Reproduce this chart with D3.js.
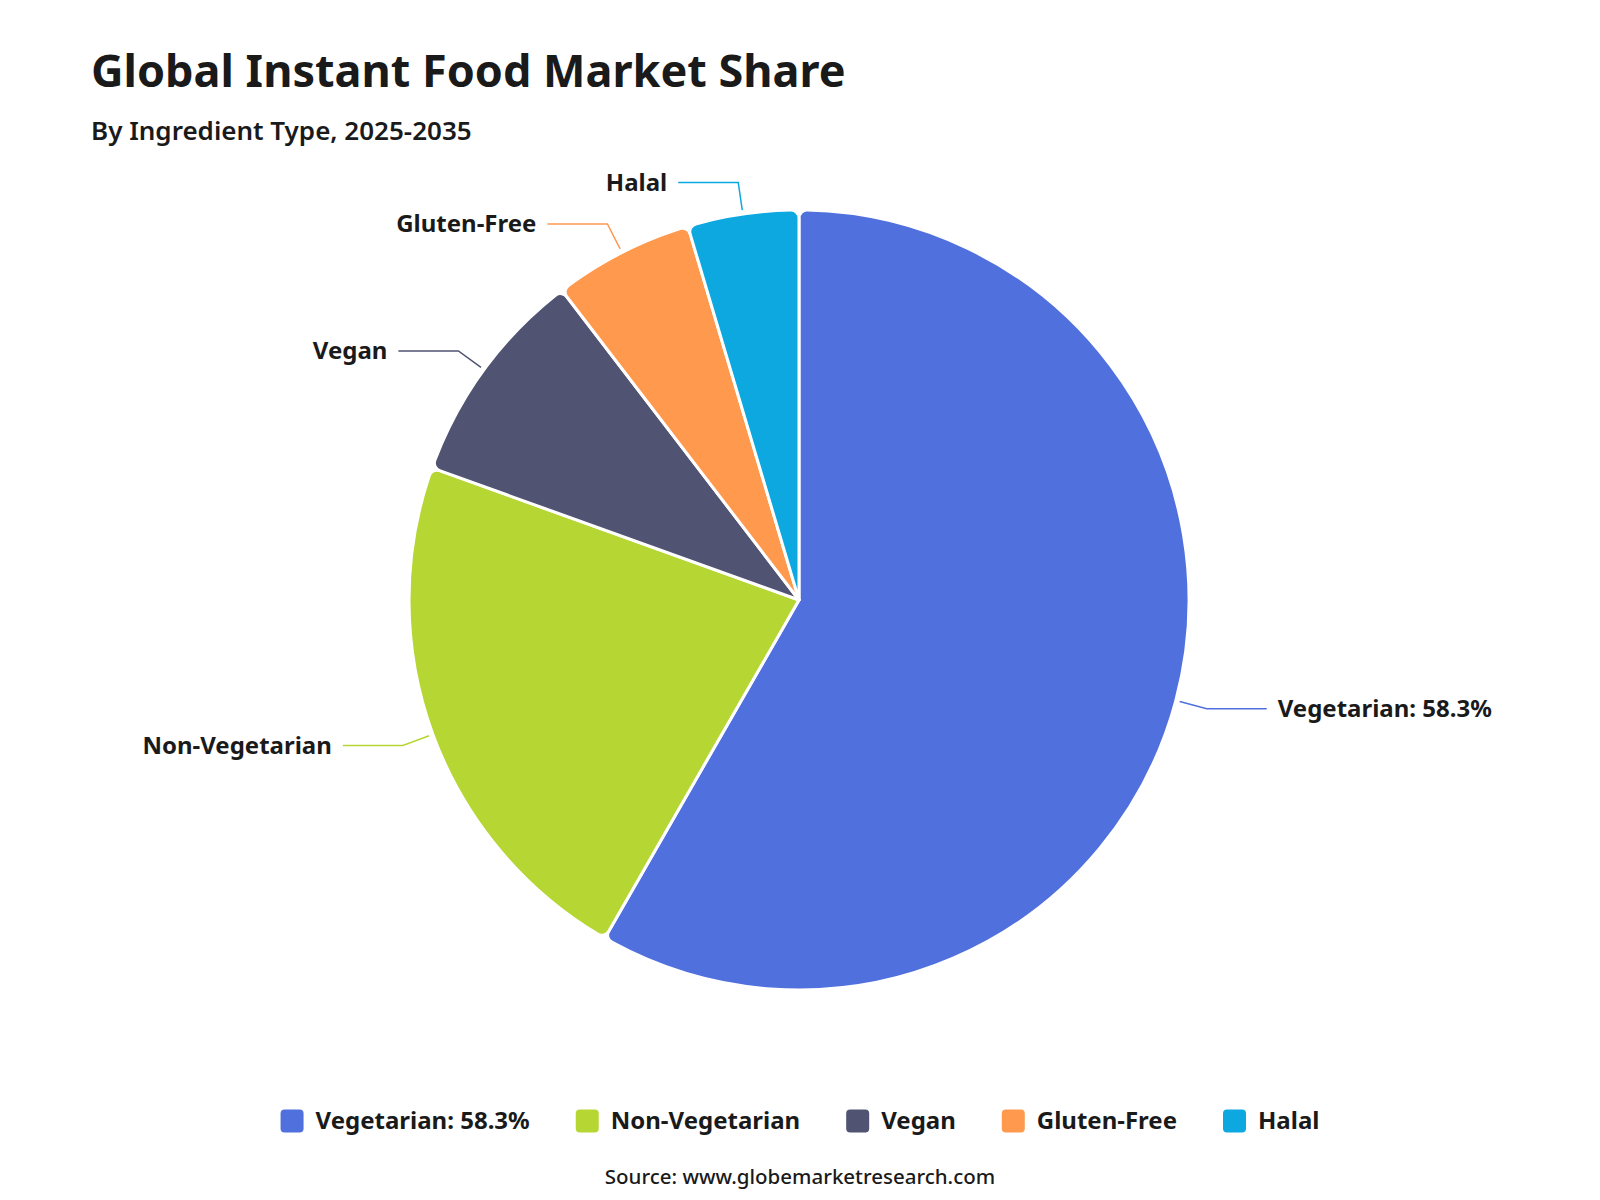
<!DOCTYPE html>
<html>
<head>
<meta charset="utf-8">
<script src="https://cdn.jsdelivr.net/npm/d3@7"></script>
<style>
  body { margin: 0; background: #fff; }
  svg { display: block; font-family: "Noto Sans", "Open Sans", sans-serif; }
</style>
</head>
<body>
<svg width="1600" height="1200"></svg>
<script>
const categories = ["Vegetarian", "Non-Vegetarian", "Vegan", "Gluten-Free", "Halal"];
const shares = [58.3, 22.2, 9.1, 5.8, 4.6];
const labelTexts = ["Vegetarian: 58.3%", "Non-Vegetarian", "Vegan", "Gluten-Free", "Halal"];
const colors = ["#5070dd", "#b6d634", "#505372", "#ff994d", "#0ca8df"];

const svg = d3.select("svg");
const width = 1600;
const cx = 799, cy = 600, radius = 390;

// Title block
svg.append("text")
  .attr("x", 91).attr("y", 87)
  .attr("font-size", 45).attr("font-weight", 700)
  .attr("fill", "#1a1a1a")
  .text("Global Instant Food Market Share");

svg.append("text")
  .attr("x", 91).attr("y", 140)
  .attr("font-size", 26).attr("font-weight", 600)
  .attr("fill", "#1a1a1a")
  .text("By Ingredient Type, 2025-2035");

const data = categories.map((c, i) => ({ name: c, value: shares[i], label: labelTexts[i], color: colors[i] }));

const pie = d3.pie().value(d => d.value).sort(null);
const arcs = pie(data);

const arc = d3.arc().innerRadius(0).outerRadius(radius).cornerRadius(8);

const g = svg.append("g").attr("transform", `translate(${cx},${cy})`);

g.selectAll("path")
  .data(arcs)
  .join("path")
  .attr("d", arc)
  .attr("fill", d => d.data.color)
  .attr("stroke", "#fff")
  .attr("stroke-width", 3)
  .attr("stroke-linejoin", "round");

// Label lines: short radial segment, then horizontal run
const len1 = 32, len2 = 60, gap = 11;
arcs.forEach(a => {
  const mid = (a.startAngle + a.endAngle) / 2;
  const sx = Math.sin(mid), sy = -Math.cos(mid);
  const p0 = [sx * (radius + 4), sy * (radius + 4)];
  const p1 = [sx * (radius + len1), sy * (radius + len1)];
  const dir = sx >= 0 ? 1 : -1;
  const p2 = [p1[0] + dir * len2, p1[1]];

  g.append("path")
    .attr("d", d3.line()([p0, p1, p2]))
    .attr("fill", "none")
    .attr("stroke", a.data.color)
    .attr("stroke-width", 1.5);

  g.append("text")
    .attr("x", p2[0] + dir * gap)
    .attr("y", p2[1])
    .attr("dy", "0.35em")
    .attr("text-anchor", dir > 0 ? "start" : "end")
    .attr("font-size", 24).attr("font-weight", 700)
    .attr("fill", "#1a1a1a")
    .text(a.data.label);
});

// Legend
const legendY = 1121, box = 23, boxGap = 12, itemGap = 46;
const legend = svg.append("g");
const items = legend.selectAll("g")
  .data(data)
  .join("g");

items.append("rect")
  .attr("width", box).attr("height", box)
  .attr("y", legendY - box / 2)
  .attr("rx", 4)
  .attr("fill", d => d.color);

items.append("text")
  .attr("x", box + boxGap)
  .attr("y", legendY)
  .attr("dy", "0.35em")
  .attr("font-size", 24).attr("font-weight", 700)
  .attr("fill", "#1a1a1a")
  .text(d => d.label);

const widths = [];
items.each(function() {
  const w = box + boxGap + d3.select(this).select("text").node().getComputedTextLength();
  widths.push(w);
});
const total = d3.sum(widths) + itemGap * (widths.length - 1);
let x0 = width / 2 - total / 2;
items.attr("transform", (d, i) => {
  const x = x0;
  x0 += widths[i] + itemGap;
  return `translate(${x},0)`;
});

svg.append("text")
  .attr("x", width / 2).attr("y", 1184)
  .attr("text-anchor", "middle")
  .attr("font-size", 20.5).attr("font-weight", 500)
  .attr("fill", "#1a1a1a")
  .text("Source: www.globemarketresearch.com");
</script>
</body>
</html>
